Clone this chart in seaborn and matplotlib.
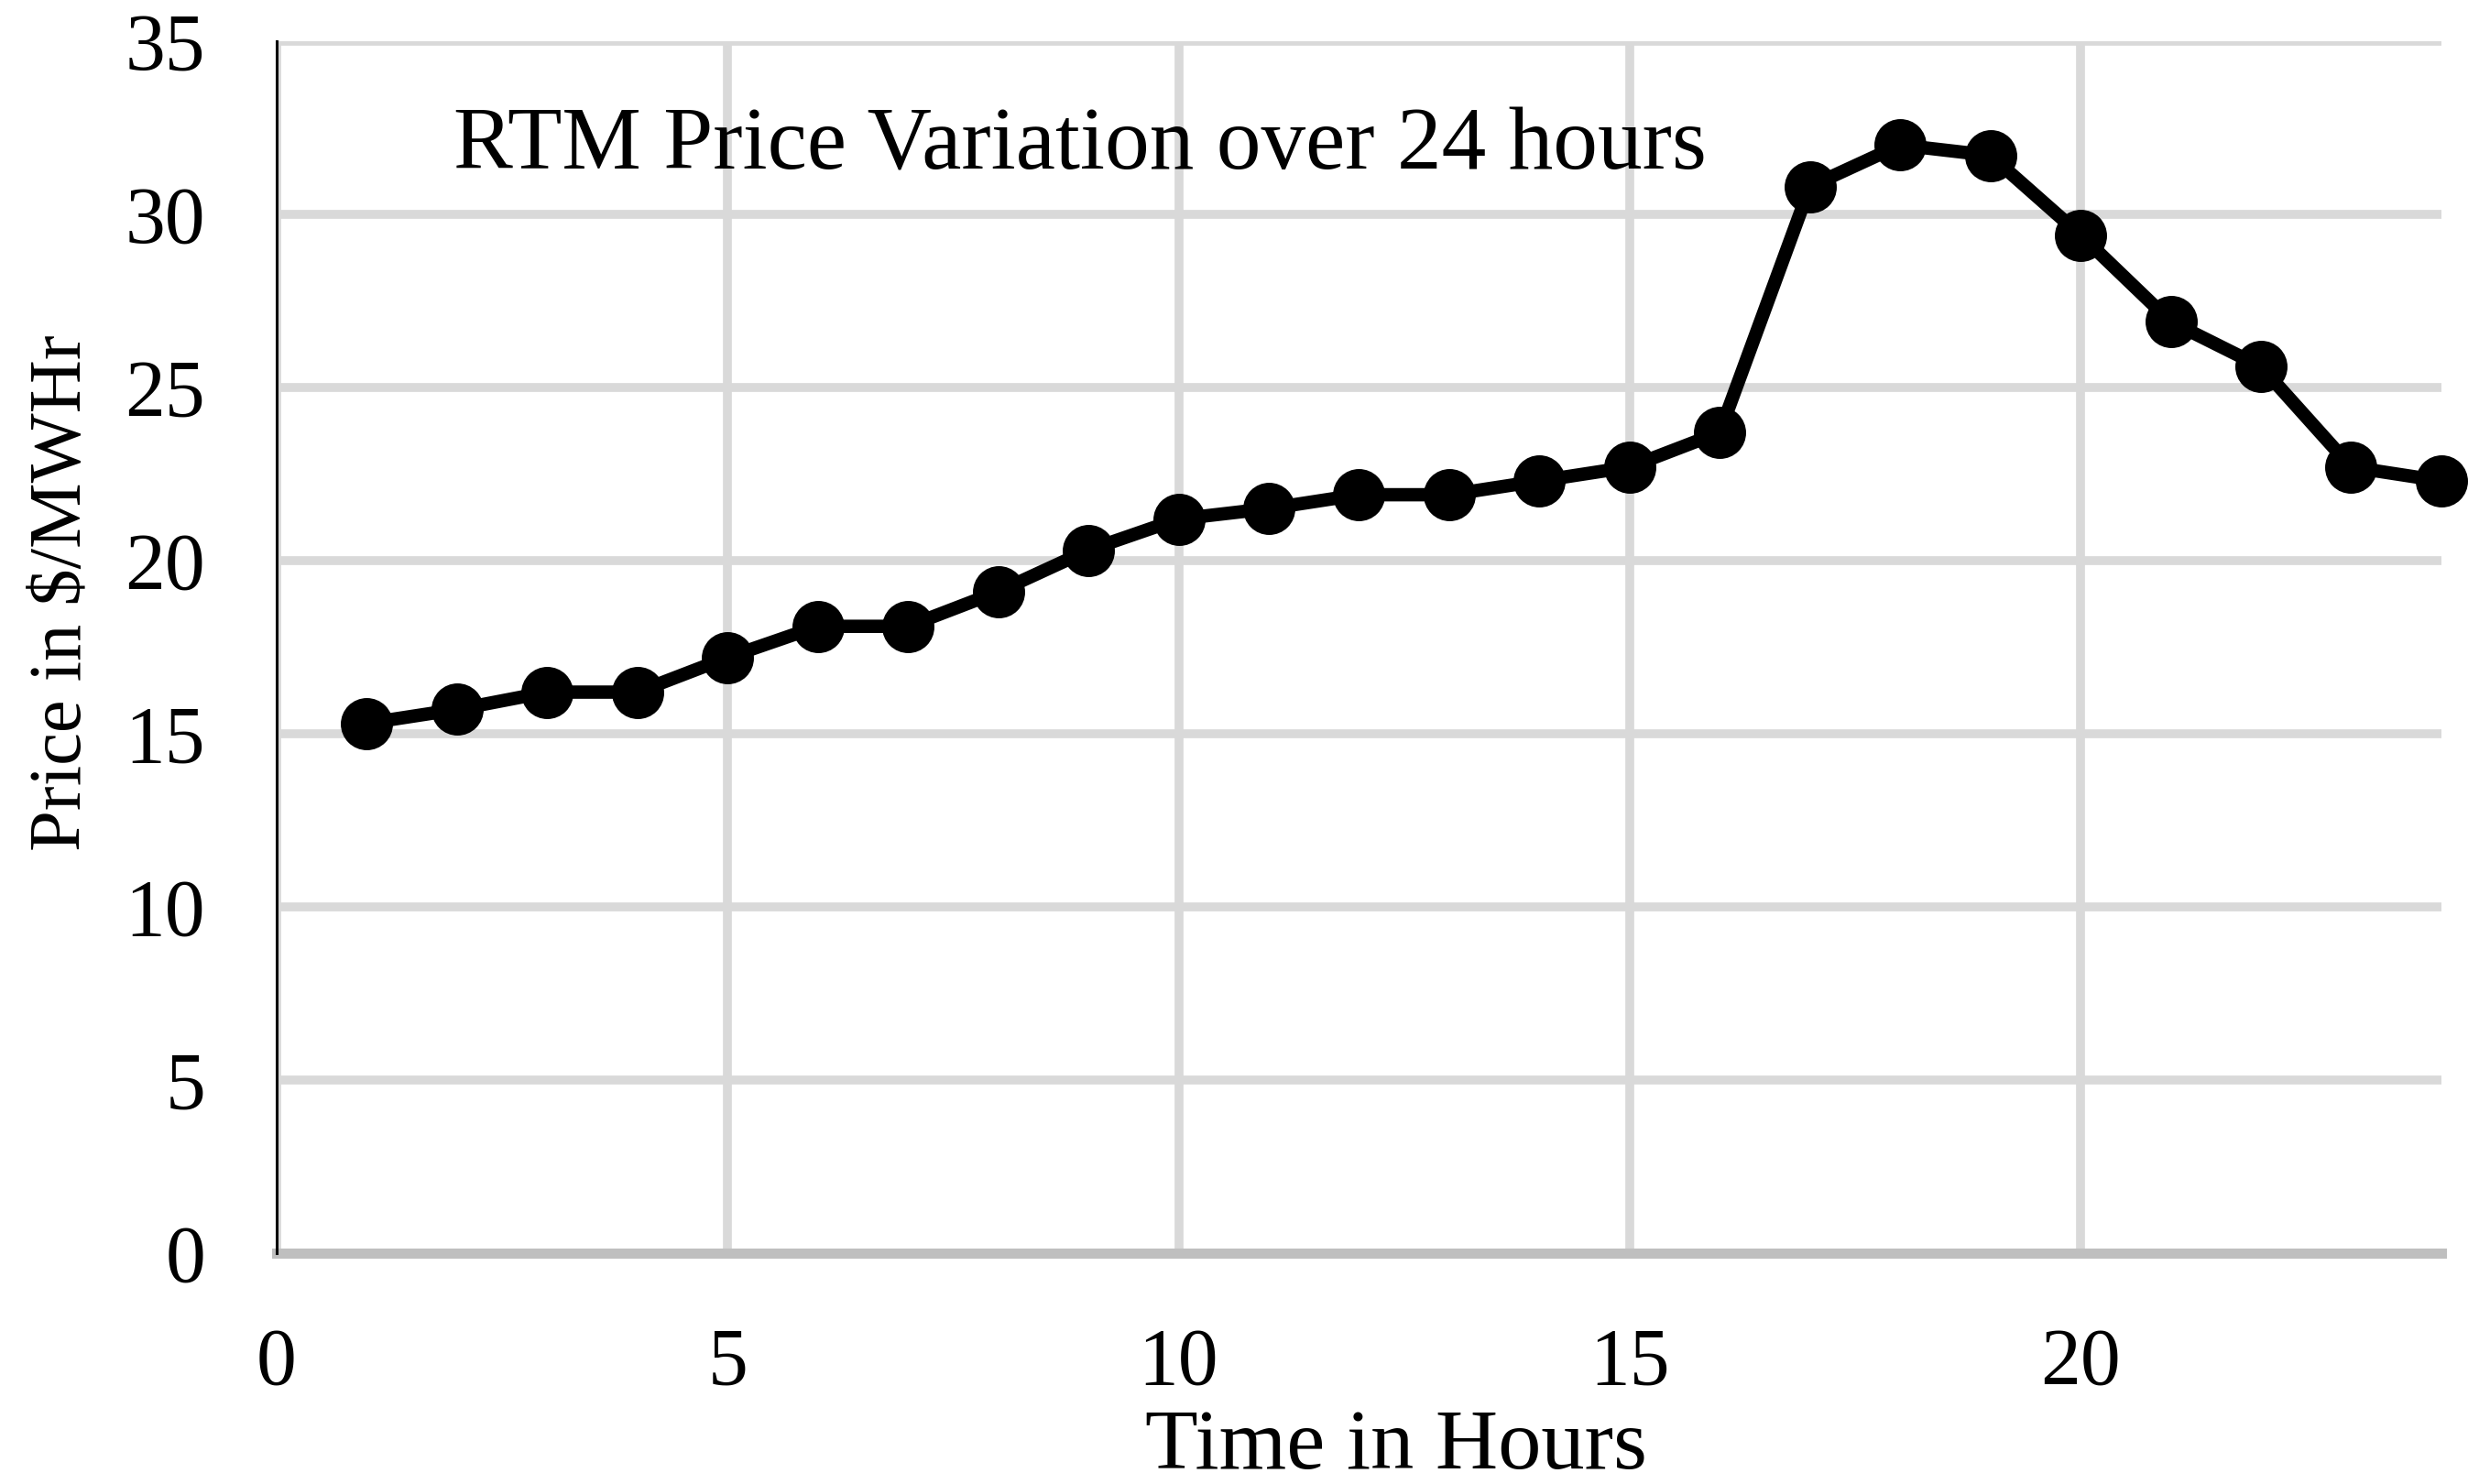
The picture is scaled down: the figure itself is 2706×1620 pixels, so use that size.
import numpy as np
import pandas as pd
import matplotlib
matplotlib.use("Agg")
import matplotlib.pyplot as plt
import seaborn as sns

# RTM price per hour
hours = list(range(1, 25))
prices = [15.3, 15.7, 16.2, 16.2, 17.2, 18.1, 18.1, 19.1, 20.3, 21.2, 21.5, 21.9,
          21.9, 22.3, 22.7, 23.7, 30.8, 32.0, 31.7, 29.4, 26.9, 25.6, 22.7, 22.3]
x_ticks = [0, 5, 10, 15, 20]
y_ticks = [0, 5, 10, 15, 20, 25, 30, 35]

df = pd.DataFrame({"hour": hours, "price": prices})

sns.set_style("white")
plt.rcParams["font.family"] = ["Liberation Serif", "DejaVu Serif"]
plt.rcParams["text.color"] = "black"
plt.rcParams["axes.labelcolor"] = "black"

fig = plt.figure(figsize=(27.06, 16.2), dpi=100)
ax = fig.add_axes([0.1116, 0.1556, 0.8732, 0.8167])

sns.lineplot(data=df, x="hour", y="price", ax=ax, color="black",
             linewidth=10.5, marker="o", markersize=41, markeredgewidth=0,
             clip_on=False, zorder=5)

ax.set_xlim(0, 24)
ax.set_ylim(0, 35)
ax.set_xticks(x_ticks)
ax.set_yticks(y_ticks)
ax.grid(True, color="#D9D9D9", linewidth=7)
ax.set_axisbelow(True)

for side in ["top", "right"]:
    ax.spines[side].set_visible(False)
ax.spines["left"].set_color("black")
ax.spines["left"].set_linewidth(2.2)
ax.spines["bottom"].set_color("#BFBFBF")
ax.spines["bottom"].set_linewidth(8)
ax.spines["left"].set_zorder(3)

ax.tick_params(axis="both", length=0, labelsize=63, labelcolor="black")
ax.tick_params(axis="y", pad=56)
ax.tick_params(axis="x", pad=58)

ax.set_xlabel("Time in Hours", fontsize=68)
ax.xaxis.set_label_coords(0.517, -0.178)
ax.xaxis.label.set_va("baseline")
ax.set_ylabel("Price in $/MWHr", fontsize=58)
ax.yaxis.set_label_coords(-0.0986, 0.545)
ax.yaxis.label.set_va("center")

ax.text(1.96, 31.3, "RTM Price Variation over 24 hours", fontsize=70,
        ha="left", va="baseline")

fig.savefig("out.png", dpi=100)
